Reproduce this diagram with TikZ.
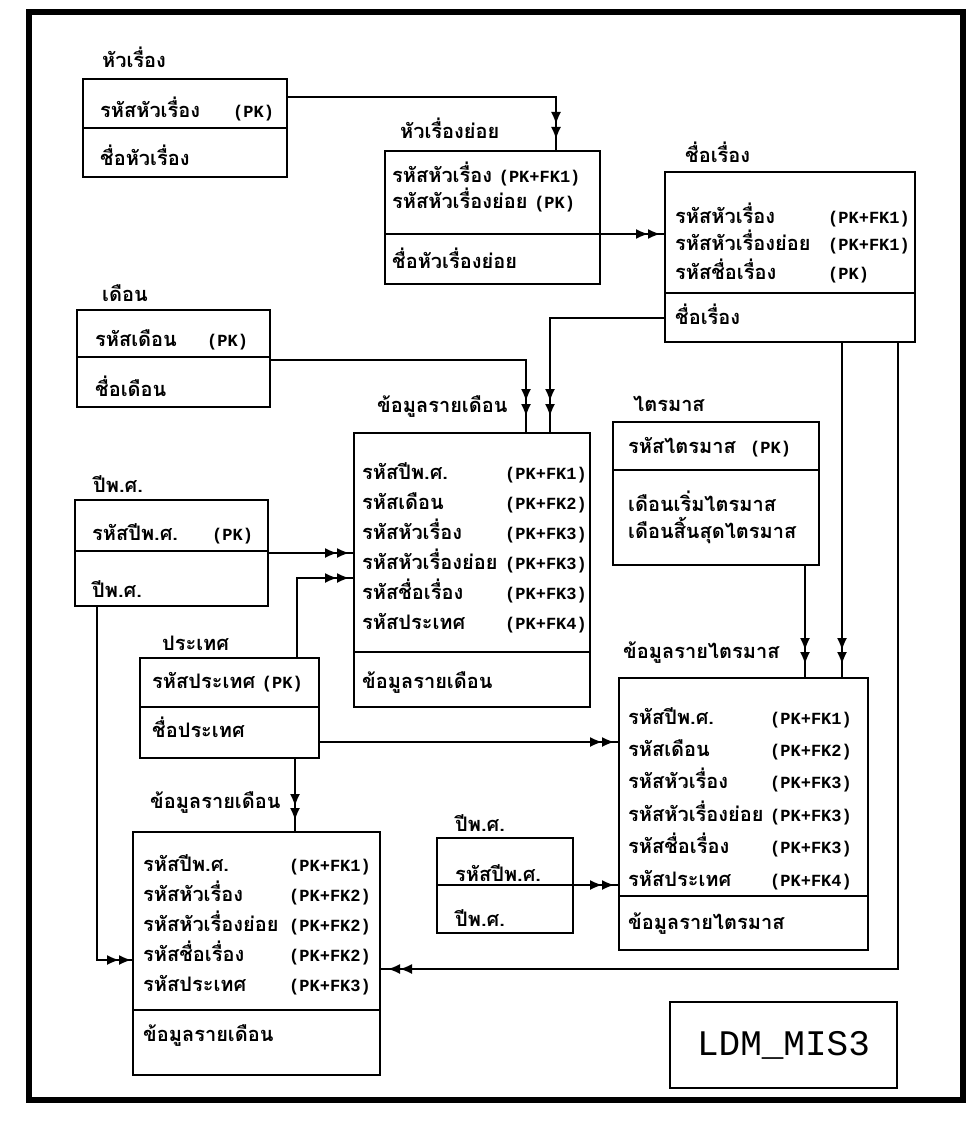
\documentclass[tikz,border=0pt]{standalone}
\usepackage{fontspec}
\setmainfont{Loma}[Script=Thai]
\newfontfamily\keyfam{Liberation Mono}
\newcommand{\keyfont}{\keyfam\bfseries\fontsize{17}{19}\selectfont}
\usetikzlibrary{arrows.meta,decorations.markings,positioning}

\tikzset{
  ln/.style={line width=1.4pt},
  ent/.style={draw, line width=1.4pt, anchor=north west, inner sep=0pt, outer sep=0pt},
  txt/.style={anchor=base west, inner sep=0pt, font=\bfseries\fontsize{20}{22}\selectfont},
  key/.style={anchor=base west, inner sep=0pt, font=\keyfont},
  dbl/.style 2 args={ln, postaction={decorate}, decoration={markings,
      mark=at position #1 with {\arrow{Latex[length=12pt,width=10pt]}},
      mark=at position #2 with {\arrow{Latex[length=12pt,width=10pt]}}}},
}

\begin{document}
\begin{tikzpicture}[x=1pt, y=-1pt]
    \useasboundingbox (0,0) rectangle (974,1123);
    \draw[line width=6pt] (29,12) rectangle (963,1100);

    % หัวเรื่อง
    \node[txt] (hwT) at (102,68) {หัวเรื่อง};
    \node[ent, minimum width=204, minimum height=98] (hw) at (83,79) {};
    \node[txt] (hw1) at (100,118) {รหัสหัวเรื่อง};
    \node[key] (hw1k) at (233,118) {(PK)};
    \draw[ln] (hw.west |- 0,128) -- (hw.east |- 0,128);
    \node[txt] (hw2) at (100,166) {ชื่อหัวเรื่อง};

    % หัวเรื่องย่อย
    \node[txt] (hwyT) at (400,139) {หัวเรื่องย่อย};
    \node[ent, minimum width=215, minimum height=133] (hwy) at (385,151) {};
    \node[txt] (hwy1) at (392,183) {รหัสหัวเรื่อง {\keyfont (PK+FK1)}};
    \node[txt] (hwy2) at (392,209) {รหัสหัวเรื่องย่อย {\keyfont (PK)}};
    \draw[ln] (hwy.west |- 0,234) -- (hwy.east |- 0,234);
    \node[txt] (hwy3) at (392,268) {ชื่อหัวเรื่องย่อย};

    % ชื่อเรื่อง
    \node[txt] (crT) at (685,163) {ชื่อเรื่อง};
    \node[ent, minimum width=250, minimum height=170] (cr) at (665,172) {};
    \node[txt] (cr1) at (675,224) {รหัสหัวเรื่อง};
    \node[key] (cr1k) at (828,224) {(PK+FK1)};
    \node[txt] (cr2) at (675,251) {รหัสหัวเรื่องย่อย};
    \node[key] (cr2k) at (828,251) {(PK+FK1)};
    \node[txt] (cr3) at (675,279) {รหัสชื่อเรื่อง};
    \node[key] (cr3k) at (828,279) {(PK)};
    \draw[ln] (cr.west |- 0,293) -- (cr.east |- 0,293);
    \node[txt] (cr4) at (675,324) {ชื่อเรื่อง};

    % เดือน
    \node[txt] (mdT) at (102,301) {เดือน};
    \node[ent, minimum width=193, minimum height=97] (md) at (77,310) {};
    \node[txt] (md1) at (95,346) {รหัสเดือน};
    \node[key] (md1k) at (207,346) {(PK)};
    \draw[ln] (md.west |- 0,357) -- (md.east |- 0,357);
    \node[txt] (md2) at (95,396) {ชื่อเดือน};

    % ปีพ.ศ.
    \node[txt] (yrT) at (93,492) {ปีพ.ศ.};
    \node[ent, minimum width=193, minimum height=106] (yr) at (75,500) {};
    \node[txt] (yr1) at (92,540) {รหัสปีพ.ศ.};
    \node[key] (yr1k) at (212,540) {(PK)};
    \draw[ln] (yr.west |- 0,551) -- (yr.east |- 0,551);
    \node[txt] (yr2) at (92,597) {ปีพ.ศ.};

    % ประเทศ
    \node[txt] (ctT) at (162,650) {ประเทศ};
    \node[ent, minimum width=179, minimum height=100] (ct) at (140,658) {};
    \node[txt] (ct1) at (152,688) {รหัสประเทศ {\keyfont (PK)}};
    \draw[ln] (ct.west |- 0,707) -- (ct.east |- 0,707);
    \node[txt] (ct2) at (152,737) {ชื่อประเทศ};

    % ข้อมูลรายเดือน
    \node[txt] (mthT) at (377,412) {ข้อมูลรายเดือน};
    \node[ent, minimum width=236, minimum height=274] (mth) at (354,433) {};
    \node[txt] (mth1) at (362,479) {รหัสปีพ.ศ.};
    \node[key] (mth1k) at (505,479) {(PK+FK1)};
    \node[txt] (mth2) at (362,509) {รหัสเดือน};
    \node[key] (mth2k) at (505,509) {(PK+FK2)};
    \node[txt] (mth3) at (362,539) {รหัสหัวเรื่อง};
    \node[key] (mth3k) at (505,539) {(PK+FK3)};
    \node[txt] (mth4) at (362,569) {รหัสหัวเรื่องย่อย};
    \node[key] (mth4k) at (505,569) {(PK+FK3)};
    \node[txt] (mth5) at (362,599) {รหัสชื่อเรื่อง};
    \node[key] (mth5k) at (505,599) {(PK+FK3)};
    \node[txt] (mth6) at (362,629) {รหัสประเทศ};
    \node[key] (mth6k) at (505,629) {(PK+FK4)};
    \draw[ln] (mth.west |- 0,652) -- (mth.east |- 0,652);
    \node[txt] (mth7) at (362,688) {ข้อมูลรายเดือน};

    % ไตรมาส
    \node[txt] (qtT) at (633,411) {ไตรมาส};
    \node[ent, minimum width=206, minimum height=143] (qt) at (613,422) {};
    \node[txt] (qt1) at (628,453) {รหัสไตรมาส};
    \node[key] (qt1k) at (750,453) {(PK)};
    \draw[ln] (qt.west |- 0,470) -- (qt.east |- 0,470);
    \node[txt] (qt2) at (628,511) {เดือนเริ่มไตรมาส};
    \node[txt] (qt3) at (628,538) {เดือนสิ้นสุดไตรมาส};

    % ข้อมูลรายไตรมาส
    \node[txt] (qtdT) at (623,658) {ข้อมูลรายไตรมาส};
    \node[ent, minimum width=249, minimum height=272] (qtd) at (619,678) {};
    \node[txt] (qtd1) at (628,724) {รหัสปีพ.ศ.};
    \node[key] (qtd1k) at (770,724) {(PK+FK1)};
    \node[txt] (qtd2) at (628,756) {รหัสเดือน};
    \node[key] (qtd2k) at (770,756) {(PK+FK2)};
    \node[txt] (qtd3) at (628,788) {รหัสหัวเรื่อง};
    \node[key] (qtd3k) at (770,788) {(PK+FK3)};
    \node[txt] (qtd4) at (628,821) {รหัสหัวเรื่องย่อย};
    \node[key] (qtd4k) at (770,821) {(PK+FK3)};
    \node[txt] (qtd5) at (628,853) {รหัสชื่อเรื่อง};
    \node[key] (qtd5k) at (770,853) {(PK+FK3)};
    \node[txt] (qtd6) at (628,886) {รหัสประเทศ};
    \node[key] (qtd6k) at (770,886) {(PK+FK4)};
    \draw[ln] (qtd.west |- 0,896) -- (qtd.east |- 0,896);
    \node[txt] (qtd7) at (628,929) {ข้อมูลรายไตรมาส};

    % ข้อมูลรายเดือน (ล่าง)
    \node[txt] (mbT) at (150,808) {ข้อมูลรายเดือน};
    \node[ent, minimum width=247, minimum height=243] (mb) at (133,832) {};
    \node[txt] (mb1) at (143,871) {รหัสปีพ.ศ.};
    \node[key] (mb1k) at (289,871) {(PK+FK1)};
    \node[txt] (mb2) at (143,901) {รหัสหัวเรื่อง};
    \node[key] (mb2k) at (289,901) {(PK+FK2)};
    \node[txt] (mb3) at (143,931) {รหัสหัวเรื่องย่อย};
    \node[key] (mb3k) at (289,931) {(PK+FK2)};
    \node[txt] (mb4) at (143,961) {รหัสชื่อเรื่อง};
    \node[key] (mb4k) at (289,961) {(PK+FK2)};
    \node[txt] (mb5) at (143,991) {รหัสประเทศ};
    \node[key] (mb5k) at (289,991) {(PK+FK3)};
    \draw[ln] (mb.west |- 0,1010) -- (mb.east |- 0,1010);
    \node[txt] (mb6) at (143,1041) {ข้อมูลรายเดือน};

    % ปีพ.ศ. (ล่าง)
    \node[txt] (ybT) at (455,831) {ปีพ.ศ.};
    \node[ent, minimum width=136, minimum height=95] (yb) at (437,838) {};
    \node[txt] (yb1) at (455,881) {รหัสปีพ.ศ.};
    \draw[ln] (yb.west |- 0,885) -- (yb.east |- 0,885);
    \node[txt] (yb2) at (455,926) {ปีพ.ศ.};

    \node[ent, minimum width=227, minimum height=86] (ldm) at (670,1002) {};
    \node[font=\keyfam\fontsize{36}{40}\selectfont] (ldmT) at (ldm.center) {LDM\_MIS3};

    % connectors
    \draw[dbl={-27pt}{-12pt}] (hw.east |- 0,97) -| (hwy.north -| 556,0);
    \draw[dbl={-17pt}{-5pt}] (hwy.east |- 0,234) -- (cr.west |- 0,234);
    \draw[dbl={-32pt}{-17pt}] (cr.west |- 0,318) -| (mth.north -| 550,0);
    \draw[dbl={-32pt}{-17pt}] (md.east |- 0,360) -| (mth.north -| 526,0);
    \draw[dbl={-17pt}{-5pt}] (yr.east |- 0,553) -- (mth.west |- 0,553);
    \draw[dbl={-17pt}{-5pt}] (ct.north -| 297,0) |- (mth.west |- 0,578);
    \draw[dbl={-17pt}{-5pt}] (ct.east |- 0,742) -- (qtd.west |- 0,742);
    \draw[dbl={-26pt}{-12pt}] (ct.south -| 295,0) -- (mb.north -| 295,0);
    \draw[dbl={-14pt}{-2pt}] (yr.south -| 97,0) |- (mb.west |- 0,960);
    \draw[dbl={-28pt}{-14pt}] (qt.south -| 805,0) -- (qtd.north -| 805,0);
    \draw[dbl={-28pt}{-14pt}] (cr.south -| 842,0) -- (qtd.north -| 842,0);
    \draw[dbl={-20pt}{-8pt}] (cr.south -| 898,0) |- (mb.east |- 0,969);
    \draw[dbl={-17pt}{-5pt}] (yb.east |- 0,885) -- (qtd.west |- 0,885);
\end{tikzpicture}
\end{document}
